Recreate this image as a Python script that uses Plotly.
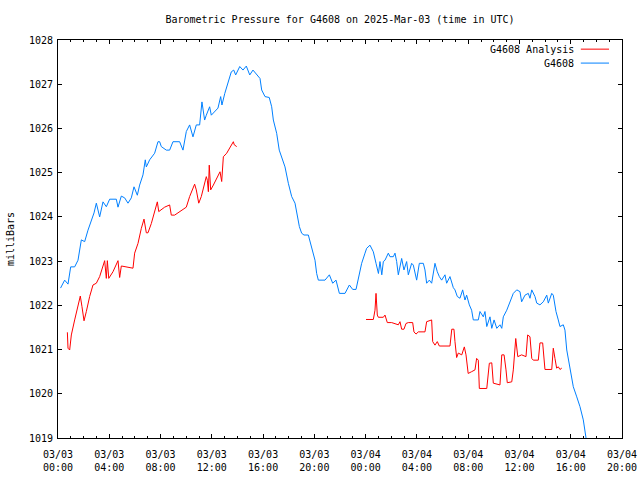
import plotly.graph_objects as go
import pandas as pd

# ---- data (hours since 2025-03-03 00:00 UTC, pressure in mb) ----
blue_hours = [0.20, 0.52, 0.78, 0.99, 1.30, 1.56, 1.82, 2.08, 2.34, 2.60, 2.81, 2.99, 3.25, 3.51, 3.77,
              4.03, 4.55, 4.68, 4.94, 5.20, 5.46, 5.72, 5.93, 6.19, 6.37, 6.63, 6.81, 6.89, 7.15, 7.54,
              7.80, 7.93, 8.06, 8.45, 8.71, 8.97, 9.23, 9.49, 9.75, 10.01, 10.27, 10.53, 10.79, 11.05,
              11.23, 11.44, 11.57, 11.83, 11.96, 12.22, 12.48, 12.69, 12.79, 13.01, 13.26, 13.52, 13.71,
              13.86, 14.18, 14.43, 14.69, 14.96, 15.21, 15.60, 15.76, 15.89, 16.15, 16.48, 16.67, 16.80,
              17.06, 17.26, 17.45, 17.71, 17.97, 18.23, 18.49, 18.62, 18.83, 19.01, 19.19, 19.53, 19.79,
              20.05, 20.18, 20.31, 20.83, 21.17, 21.43, 21.69, 21.95, 22.39, 22.73, 22.99, 23.25, 23.43,
              23.69, 23.95, 24.08, 24.34, 24.60, 24.81, 25.00, 25.12, 25.26, 25.38, 25.51, 25.77, 25.90,
              26.16, 26.29, 26.42, 26.55, 26.81, 26.99, 27.20, 27.33, 27.59, 27.72, 27.98, 28.19, 28.50,
              28.63, 28.76, 28.97, 29.15, 29.41, 29.59, 29.75, 29.93, 30.19, 30.32, 30.58, 30.84, 30.97,
              31.15, 31.36, 31.57, 31.75, 31.88, 32.09, 32.27, 32.40, 32.79, 32.92, 33.18, 33.31, 33.45,
              33.70, 33.84, 34.02, 34.23, 34.48, 34.62, 34.74, 35.01, 35.26, 35.52, 35.79, 36.04, 36.17,
              36.43, 36.69, 36.82, 36.96, 37.21, 37.35, 37.60, 37.86, 38.13, 38.25, 38.52, 38.64, 38.85,
              39.03, 39.16, 39.42, 39.55, 39.69, 39.94, 40.20, 40.47, 40.72, 40.98, 41.19, 41.35]
blue_values = [1022.39, 1022.57, 1022.48, 1022.87, 1022.87, 1023.02, 1023.48, 1023.44, 1023.70, 1023.93,
               1024.09, 1024.31, 1024.00, 1024.34, 1024.23, 1024.40, 1024.40, 1024.22, 1024.47, 1024.43,
               1024.31, 1024.43, 1024.68, 1024.49, 1024.72, 1024.95, 1025.29, 1025.13, 1025.29, 1025.44,
               1025.70, 1025.70, 1025.59, 1025.51, 1025.51, 1025.70, 1025.70, 1025.70, 1025.51, 1025.93,
               1026.08, 1025.81, 1026.08, 1026.08, 1026.60, 1026.19, 1026.30, 1026.49, 1026.30, 1026.38,
               1026.46, 1026.72, 1026.53, 1026.79, 1027.02, 1027.28, 1027.32, 1027.21, 1027.40, 1027.32,
               1027.41, 1027.21, 1027.32, 1027.17, 1027.13, 1026.87, 1026.72, 1026.70, 1026.49, 1026.19,
               1025.89, 1025.51, 1025.36, 1025.13, 1024.76, 1024.46, 1024.31, 1024.08, 1023.78, 1023.63,
               1023.59, 1023.59, 1023.29, 1023.02, 1022.72, 1022.57, 1022.57, 1022.69, 1022.50, 1022.57,
               1022.27, 1022.27, 1022.46, 1022.36, 1022.36, 1022.61, 1022.95, 1023.18, 1023.29, 1023.36,
               1023.21, 1022.95, 1022.72, 1022.99, 1022.69, 1022.99, 1023.02, 1023.18, 1023.10, 1023.10,
               1023.18, 1022.99, 1022.69, 1023.06, 1022.80, 1022.99, 1022.69, 1022.95, 1022.91, 1022.57,
               1022.95, 1022.95, 1022.80, 1022.50, 1022.57, 1022.50, 1022.95, 1022.76, 1022.65, 1022.57,
               1022.69, 1022.50, 1022.65, 1022.40, 1022.35, 1022.20, 1022.16, 1022.35, 1022.12, 1022.23,
               1022.01, 1021.89, 1021.67, 1021.67, 1021.86, 1021.74, 1021.86, 1021.52, 1021.74, 1021.48,
               1021.67, 1021.48, 1021.56, 1021.48, 1021.74, 1021.89, 1022.08, 1022.27, 1022.35, 1022.31,
               1022.08, 1022.23, 1022.27, 1022.16, 1022.35, 1022.20, 1022.05, 1022.01, 1022.08, 1022.23,
               1022.05, 1022.27, 1022.23, 1021.86, 1021.67, 1021.52, 1021.56, 1021.44, 1020.99, 1020.61,
               1020.16, 1019.93, 1019.71, 1019.41, 1018.99, 1018.70]

red_hours_day1 = [0.73, 0.78, 0.91, 1.04, 1.30, 1.56, 1.74, 1.87, 2.03, 2.21, 2.47, 2.73, 2.99, 3.25, 3.51,
                  3.64, 3.77, 3.85, 3.96, 4.29, 4.68, 4.81, 4.94, 5.33, 5.85, 5.98, 6.24, 6.50, 6.71, 6.89,
                  7.02, 7.28, 7.54, 7.75, 7.86, 8.32, 8.71, 8.84, 9.10, 9.75, 10.01, 10.27, 10.66, 10.79,
                  10.98, 11.18, 11.44, 11.57, 11.65, 11.73, 11.80, 11.91, 12.12, 12.38, 12.64, 12.77, 12.85,
                  12.90, 13.16, 13.42, 13.68, 13.75, 13.94]
red_values_day1 = [1021.39, 1021.03, 1020.99, 1021.33, 1021.67, 1021.97, 1022.21, 1021.97, 1021.65, 1021.86,
                   1022.20, 1022.46, 1022.50, 1022.65, 1022.87, 1023.01, 1022.61, 1023.01, 1022.61, 1022.76,
                   1023.01, 1022.63, 1022.89, 1022.87, 1022.84, 1023.18, 1023.40, 1023.74, 1023.95, 1023.64,
                   1023.64, 1023.85, 1024.12, 1024.34, 1024.12, 1024.22, 1024.27, 1024.04, 1024.04, 1024.16,
                   1024.22, 1024.46, 1024.74, 1024.61, 1024.31, 1024.46, 1024.74, 1024.91, 1024.83, 1024.57,
                   1025.17, 1024.61, 1024.72, 1024.87, 1025.02, 1024.80, 1025.10, 1025.36, 1025.44, 1025.57,
                   1025.70, 1025.63, 1025.59]
red_hours_day2 = [24.03, 24.60, 24.73, 24.81, 24.91, 24.99, 25.38, 25.51, 25.69, 26.03, 26.55, 26.68, 26.81,
                  26.99, 27.15, 27.33, 27.67, 27.77, 27.93, 28.11, 28.63, 28.76, 29.15, 29.23, 29.41, 29.59,
                  29.75, 30.58, 30.72, 30.89, 30.97, 31.10, 31.23, 31.50, 31.62, 31.70, 31.83, 32.00, 32.27,
                  32.53, 32.66, 32.79, 32.87, 33.45, 33.65, 33.84, 33.96, 34.48, 34.62, 34.80, 34.95, 35.05,
                  35.40, 35.52, 35.71, 35.87, 36.17, 36.51, 36.64, 36.82, 36.96, 37.08, 37.47, 37.60, 37.81,
                  37.99, 38.52, 38.64, 38.77, 38.90, 39.03, 39.16, 39.30]
red_values_day2 = [1021.68, 1021.68, 1021.89, 1022.27, 1021.78, 1021.73, 1021.73, 1021.78, 1021.61, 1021.61,
                   1021.56, 1021.63, 1021.46, 1021.46, 1021.59, 1021.61, 1021.61, 1021.40, 1021.35, 1021.40,
                   1021.40, 1021.63, 1021.67, 1021.18, 1021.10, 1021.18, 1021.08, 1021.08, 1021.46, 1021.46,
                   1021.18, 1020.82, 1020.92, 1020.88, 1020.99, 1021.06, 1020.88, 1020.46, 1020.50, 1020.54,
                   1020.80, 1020.76, 1020.12, 1020.12, 1020.69, 1020.70, 1020.24, 1020.20, 1020.88, 1020.88,
                   1020.54, 1020.25, 1020.27, 1020.54, 1021.25, 1020.84, 1020.88, 1020.84, 1021.33, 1021.29,
                   1020.80, 1020.76, 1020.76, 1021.15, 1021.15, 1020.55, 1020.55, 1021.03, 1020.80, 1020.58,
                   1020.61, 1020.55, 1020.58]

tick_hours = [0, 4, 8, 12, 16, 20, 24, 28, 32, 36, 40, 44]
tick_labels = ["03/03<br>00:00", "03/03<br>04:00", "03/03<br>08:00", "03/03<br>12:00",
               "03/03<br>16:00", "03/03<br>20:00", "03/04<br>00:00", "03/04<br>04:00",
               "03/04<br>08:00", "03/04<br>12:00", "03/04<br>16:00", "03/04<br>20:00"]

base = pd.Timestamp("2025-03-03 00:00")
def to_time(hours):
    return [None if h is None else base + pd.Timedelta(hours=h) for h in hours]

red_x = to_time(red_hours_day1) + [None] + to_time(red_hours_day2)
red_y = red_values_day1 + [None] + red_values_day2

RED = "#ff0000"
BLUE = "#0080ff"
FONT = "DejaVu Sans Mono"
FS = 10

fig = go.Figure()
fig.add_trace(go.Scatter(x=to_time(blue_hours), y=blue_values, mode="lines",
                         line=dict(color=BLUE, width=1), name="G4608", showlegend=False))
fig.add_trace(go.Scatter(x=red_x, y=red_y, mode="lines", connectgaps=False,
                         line=dict(color=RED, width=1), name="G4608 Analysis", showlegend=False))

fig.update_layout(
    width=640, height=480,
    margin=dict(l=58, r=18, t=40, b=42),
    paper_bgcolor="white", plot_bgcolor="white",
    font=dict(family=FONT, size=FS, color="black"),
    title=dict(text="Barometric Pressure for G4608 on 2025-Mar-03 (time in UTC)",
               x=0.5, xref="paper", y=1 - 19 / 480, yanchor="middle",
               font=dict(family=FONT, size=FS, color="black")),
)
fig.update_xaxes(
    type="date", automargin=False,
    range=[base, base + pd.Timedelta(hours=44)],
    tickvals=to_time(tick_hours), ticktext=tick_labels,
    ticks="inside", ticklen=4, tickcolor="black", tickwidth=1,
    ticklabelstandoff=7,
    showline=True, linecolor="black", linewidth=1, mirror="allticks",
    showgrid=False, zeroline=False,
    minor=dict(ticks="inside", ticklen=2, tickcolor="black", dtick=3600000, showgrid=False),
    tickfont=dict(family=FONT, size=FS, color="black"),
)
fig.update_yaxes(
    automargin=False,
    range=[1019, 1028], dtick=1, tick0=1019,
    ticks="inside", ticklen=4, tickcolor="black", tickwidth=1,
    ticklabelstandoff=2,
    showline=True, linecolor="black", linewidth=1, mirror="allticks",
    showgrid=False, zeroline=False,
    tickfont=dict(family=FONT, size=FS, color="black"),
)

# y-axis label
fig.add_annotation(text="milliBars", xref="paper", yref="paper", x=-0.085, y=0.5,
                   xanchor="center", yanchor="middle",
                   textangle=-90, showarrow=False, font=dict(family=FONT, size=FS, color="black"))

# gnuplot-style key (text right-aligned, sample line to the right)
key_entries = [("G4608 Analysis", RED, 0.977), ("G4608", BLUE, 0.942)]
for label, color, ky in key_entries:
    fig.add_annotation(text=label, xref="paper", yref="paper", x=0.918, y=ky,
                       xanchor="right", yanchor="middle", showarrow=False,
                       font=dict(family=FONT, size=FS, color="black"))
    fig.add_shape(type="line", xref="paper", yref="paper", x0=0.927, x1=0.977, y0=ky, y1=ky,
                  line=dict(color=color, width=1))

fig.write_html("out.html", config={"displayModeBar": False},
               post_script="document.body.style.margin='0';")
